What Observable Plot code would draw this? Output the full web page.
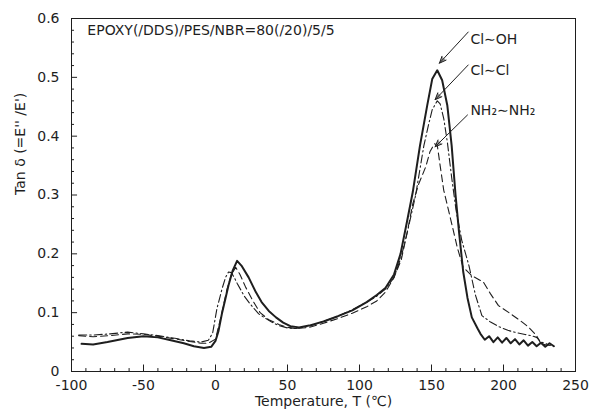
<!DOCTYPE html>
<html>
<head>
<meta charset="utf-8">
<script src="https://cdn.jsdelivr.net/npm/d3@7"></script>
<script src="https://cdn.jsdelivr.net/npm/@observablehq/plot@0.6"></script>
<style>
  html, body { margin: 0; padding: 0; background: #fff; }
  #chart svg { display: block; }
</style>
</head>
<body>
<div id="chart"></div>
<script>
// ---- data ----
// Cl~OH (solid)
const tempClOH = [-93,-85,-75,-61,-50,-40,-31,-22,-15,-8,-3,0,2,4.6,7,9,12,15,18,23,28,32,37,42,47,52,58,65,75,85,95,105,112,118,124,128.5,133,137,142,147,150.5,154,157.4,161,164,166.7,169,172,175,178,182,184,187,190,193,196,199,202,205,208,211,214,217,220,223,226,229,232,235];
const tanClOH  = [0.047,0.046,0.050,0.057,0.060,0.058,0.053,0.048,0.043,0.040,0.042,0.052,0.068,0.100,0.125,0.146,0.172,0.188,0.180,0.160,0.135,0.118,0.103,0.092,0.083,0.077,0.075,0.078,0.085,0.094,0.104,0.118,0.130,0.142,0.165,0.200,0.255,0.305,0.384,0.452,0.497,0.512,0.495,0.452,0.384,0.300,0.240,0.170,0.125,0.092,0.073,0.064,0.054,0.060,0.050,0.058,0.049,0.057,0.048,0.055,0.046,0.053,0.044,0.050,0.043,0.049,0.042,0.048,0.043];
// Cl~Cl (dash-dot)
const tempClCl = [-95,-85,-73,-61,-50,-40,-27,-18,-10,-5,-2,1,4.6,7,9,11,13,15,20,24,30,35,39,44,50,56,65,75,85,95,105,112,118,124,129,134,139,144.7,148,150.5,154,156,158.5,161,164,167,171,176,180.5,185,191,197,203,209,215,219,223,226,230];
const tanClCl  = [0.062,0.062,0.064,0.067,0.064,0.061,0.056,0.052,0.050,0.053,0.065,0.107,0.141,0.160,0.169,0.168,0.160,0.150,0.128,0.115,0.098,0.090,0.084,0.078,0.074,0.073,0.077,0.085,0.094,0.105,0.118,0.128,0.140,0.160,0.195,0.245,0.300,0.384,0.420,0.445,0.460,0.455,0.430,0.390,0.330,0.275,0.223,0.180,0.130,0.095,0.084,0.076,0.070,0.066,0.063,0.061,0.058,0.050,0.047];
// NH2~NH2 (dashed)
const tempNH2 = [-95,-85,-73,-61,-50,-40,-27,-18,-10,-5,0,4,8,11,14,17,21,26,31,37,44,50,56,65,75,85,95,105,112,118,124,129,133,137,141,146,149,152,154,156,158.5,163,168,172,178,186,191,196.5,205,213,217.6,223,226,230,235];
const tanNH2  = [0.061,0.059,0.061,0.064,0.063,0.060,0.055,0.051,0.048,0.048,0.055,0.095,0.140,0.165,0.177,0.165,0.143,0.120,0.100,0.088,0.080,0.075,0.073,0.075,0.082,0.090,0.099,0.110,0.120,0.135,0.160,0.190,0.235,0.285,0.318,0.348,0.374,0.387,0.385,0.350,0.308,0.262,0.210,0.177,0.163,0.152,0.132,0.112,0.098,0.084,0.075,0.061,0.047,0.045,0.044];

const seriesNames = ["Cl∼OH", "Cl∼Cl", "NH₂∼NH₂"];
const xTicks = [-100, -50, 0, 50, 100, 150, 200, 250];
const xMinorTicks = d3.range(-90, 250, 10).filter(d => d % 50 !== 0);
const yTicks = [0, 0.1, 0.2, 0.3, 0.4, 0.5, 0.6];
const yMinorTicks = d3.range(1, 30).map(i => i * 0.02).filter((d, i) => (i + 1) % 5 !== 0);
const titleText = "EPOXY(/DDS)/PES/NBR=80(/20)/5/5";
const xLabel = "Temperature, T (℃)";
const yLabel = "Tan δ (=E'' /E')";
// annotation label anchors and arrows (data units)
const labelT = [177, 177, 177];
const labelV = [0.565, 0.512, 0.444];
const arrowFromT = [175.5, 175.5, 175];
const arrowFromV = [0.577, 0.521, 0.436];
const arrowToT = [155.5, 152.5, 152.5];
const arrowToV = [0.524, 0.462, 0.382];

// ---- build tables ----
const toRows = (name, ts, vs) => ts.map((t, i) => ({series: name, T: t, v: vs[i]}));
const rowsClOH = toRows(seriesNames[0], tempClOH, tanClOH);
const rowsClCl = toRows(seriesNames[1], tempClCl, tanClCl);
const rowsNH2 = toRows(seriesNames[2], tempNH2, tanNH2);
const labels = seriesNames.map((s, i) => ({s, T: labelT[i], v: labelV[i]}));
const arrows = seriesNames.map((s, i) => ({x1: arrowFromT[i], y1: arrowFromV[i], x2: arrowToT[i], y2: arrowToV[i]}));

const ink = "#1e1e1e";
const xMajorLen = 0.011, xMinorLen = 0.005;
const yMajorLen = 4.2, yMinorLen = 2.1;

const chart = Plot.plot({
  width: 589,
  height: 414,
  marginLeft: 71,
  marginRight: 14,
  marginTop: 18,
  marginBottom: 43,
  style: {fontFamily: "'DejaVu Sans', sans-serif", fontSize: "14px", background: "#fff", color: ink},
  x: {domain: [-100, 250]},
  y: {domain: [0, 0.6]},
  marks: [
    Plot.frame({stroke: ink, strokeWidth: 1}),
    Plot.ruleX(xTicks, {x: d => d, y1: 0, y2: xMajorLen, stroke: ink}),
    Plot.ruleX(xMinorTicks, {x: d => d, y1: 0, y2: xMinorLen, stroke: ink}),
    Plot.ruleY(yTicks, {y: d => d, x1: -100, x2: -100 + yMajorLen, stroke: ink}),
    Plot.ruleY(yMinorTicks, {y: d => d, x1: -100, x2: -100 + yMinorLen, stroke: ink}),
    Plot.axisX(xTicks, {tickSize: 0, tickPadding: 9, tickFormat: d => String(d), label: null, fontSize: 14}),
    Plot.axisY(yTicks, {tickSize: 0, tickPadding: 12, tickFormat: d => String(d), label: null, fontSize: 14}),
    Plot.text([xLabel], {text: d => d, frameAnchor: "bottom", dy: 34, fontSize: 14}),
    Plot.text([yLabel], {text: d => d, frameAnchor: "left", dx: -51, rotate: -90, fontSize: 14}),
    Plot.text([titleText], {text: d => d, x: -89, y: 0.58, textAnchor: "start", fontSize: 14}),
    Plot.line(rowsNH2, {x: "T", y: "v", stroke: ink, strokeWidth: 1.1, strokeDasharray: "7,4"}),
    Plot.line(rowsClCl, {x: "T", y: "v", stroke: ink, strokeWidth: 1.1, strokeDasharray: "8,3,1.5,3"}),
    Plot.line(rowsClOH, {x: "T", y: "v", stroke: ink, strokeWidth: 2}),
    Plot.arrow(arrows, {x1: "x1", y1: "y1", x2: "x2", y2: "y2", stroke: ink, strokeWidth: 1, fill: "#9a9a9a", headLength: 11, headAngle: 45}),
    Plot.text(labels, {x: "T", y: "v", text: "s", textAnchor: "start", fontSize: 14})
  ]
});
document.getElementById("chart").appendChild(chart);
</script>
</body>
</html>
